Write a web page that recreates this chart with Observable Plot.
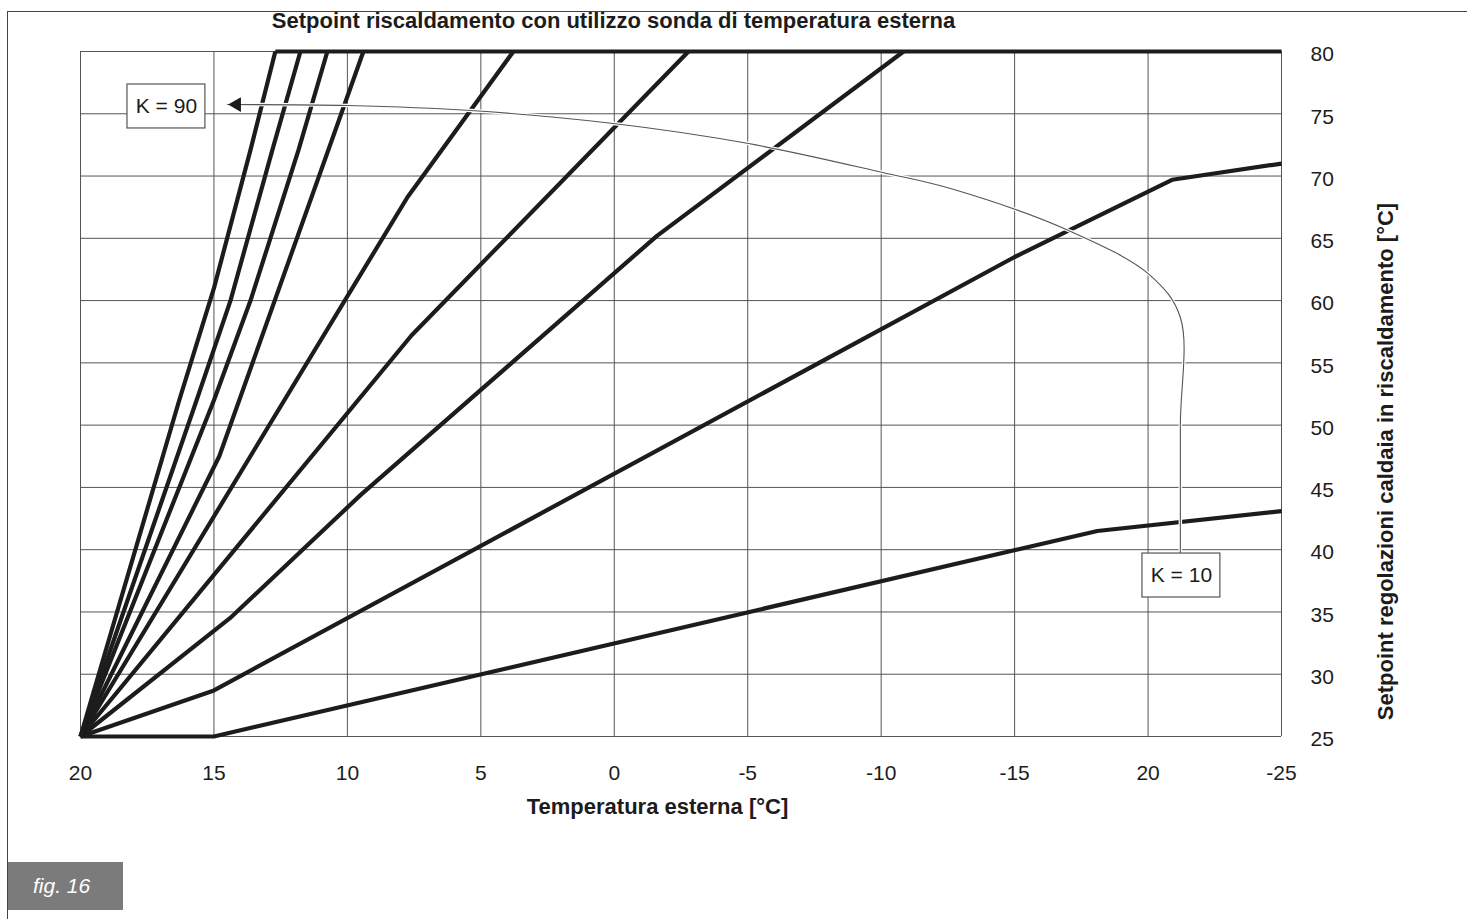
<!DOCTYPE html>
<html><head><meta charset="utf-8">
<script src="https://cdn.jsdelivr.net/npm/d3@7"></script>
<script src="https://cdn.jsdelivr.net/npm/@observablehq/plot@0.6"></script>
<style>
body{margin:0;background:#fff;}
#wrap{position:relative;width:1467px;height:919px;overflow:hidden;font-family:"Liberation Sans",Arial,sans-serif;background:#fff;}
#wrap svg{position:absolute;left:0;top:0;}
.bt{position:absolute;left:7px;top:11px;width:1460px;height:0;border-top:1.5px solid #444;}
.bl{position:absolute;left:7px;top:11px;width:0;height:908px;border-left:1.5px solid #444;}
.fig{position:absolute;left:8px;top:862px;width:115px;height:48px;background:#7b7b7b;color:#fff;font-style:italic;font-size:21px;line-height:48px;padding-left:25px;box-sizing:border-box;}
</style></head>
<body><div id="wrap"></div>
<script>
// ---- data ----
const title = "Setpoint riscaldamento con utilizzo sonda di temperatura esterna";
const xLabel = "Temperatura esterna [°C]";
const yLabel = "Setpoint regolazioni caldaia in riscaldamento [°C]";
const figLabel = "fig. 16";

const xTicks = [20, 15, 10, 5, 0, -5, -10, -15, -20, -25];
const xTickLabels = ["20", "15", "10", "5", "0", "-5", "-10", "-15", "20", "-25"];
const yTicks = [25, 30, 35, 40, 45, 50, 55, 60, 65, 70, 75, 80];

// curves: [outside temperature, setpoint]
const k10 = [[20, 25], [15, 25], [-18.1, 41.5], [-25, 43.1]];
const k20 = [[20, 25], [15, 28.7], [-15, 63.5], [-20.9, 69.7], [-25, 71]];
const k30 = [[20, 25], [14.4, 34.5], [9.5, 44.4], [-1.6, 65.2], [-10.84, 80]];
const k40 = [[20, 25], [7.6, 57.2], [-2.78, 80]];
const k50 = [[20, 25], [7.75, 68.3], [3.78, 80]];
const k60 = [[20, 25], [14.8, 47.5], [9.4, 80]];
const k70 = [[20, 25], [15, 52], [13.63, 60], [11.83, 72.1], [10.75, 80]];
const k80 = [[20, 25], [15.65, 52], [14.38, 60], [12.81, 72.1], [11.76, 80]];
const k90 = [[20, 25], [16.3, 52], [15, 61], [13.63, 72.1], [12.7, 80]];
const maxLimit = [[12.7, 80], [-25, 80]];

// annotation arc from K = 10 to K = 90
const arcT = [-21.21, -21.21, -21.21, -20.09, -17.02, -12.6, -10.05, -5.03, 0.03, 5.39, 10.0, 14.49];
const arcV = [39.7, 50, 58.64, 62.01, 65.63, 69.0, 70.29, 72.61, 74.22, 75.26, 75.66, 75.74];
const arrowHead = [14.15, 75.74];

// label boxes [t1, t2, v1, v2]
const boxLabels = ["K = 90", "K = 10"];
const boxK90 = [18.24, 15.32, 77.35, 73.82];
const boxK10 = [-19.79, -22.71, 39.69, 36.16];

// ---- build ----
const curves = {k10, k20, k30, k40, k50, k60, k70, k80, k90, max: maxLimit};
const rows = [];
for (const [k, pts] of Object.entries(curves)) for (const [t, v] of pts) rows.push({k, t, v});
const arc = arcT.map((t, i) => ({t, v: arcV[i]}));
const boxes = [boxK90, boxK10].map((b, i) => ({t1: b[0], t2: b[1], v1: b[2], v2: b[3], label: boxLabels[i]}));

const font = '"Liberation Sans", Arial, Helvetica, sans-serif';
const ink = "#1c1c1c";
const grid = "#555";

const chart = Plot.plot({
  width: 1467, height: 919,
  marginLeft: 80, marginRight: 186, marginTop: 51, marginBottom: 183,
  style: {fontFamily: font, fontSize: "21px", color: ink, background: "transparent"},
  x: {domain: [20, -25], ticks: xTicks, tickFormat: d => xTickLabels[xTicks.indexOf(d)], tickSize: 0, tickPadding: 29, label: null},
  y: {domain: [25, 80], axis: null},
  marks: [
    Plot.ruleX(xTicks, {stroke: grid, strokeWidth: 1}),
    Plot.ruleY(yTicks, {stroke: grid, strokeWidth: 1}),
    Plot.text(yTicks, {y: d => d, text: d => String(d), frameAnchor: "right", textAnchor: "start", lineAnchor: "middle", dx: 29, dy: 3, fontSize: 21, fill: ink}),
    Plot.line(rows, {x: "t", y: "v", z: "k", stroke: ink, strokeWidth: 4.2, strokeLinejoin: "round", strokeLinecap: "butt"}),
    Plot.line(arc, {x: "t", y: "v", curve: "catmull-rom", stroke: "white", strokeWidth: 3.5}),
    Plot.line(arc, {x: "t", y: "v", curve: "catmull-rom", stroke: "#555", strokeWidth: 1.1}),
    Plot.dot([arrowHead], {x: d => d[0], y: d => d[1], symbol: "triangle", r: 5.5, rotate: -90, fill: ink, stroke: "none"}),
    Plot.rect(boxes, {x1: "t1", x2: "t2", y1: "v1", y2: "v2", fill: "white", stroke: "#555", strokeWidth: 1.2}),
    Plot.text(boxes, {x: d => (d.t1 + d.t2) / 2, y: d => (d.v1 + d.v2) / 2, text: "label", fontSize: 21, fill: ink}),
    Plot.text([title], {frameAnchor: "top", textAnchor: "middle", lineAnchor: "middle", dy: -31, dx: -67.5, fontWeight: "bold", fontSize: 22, fill: ink}),
    Plot.text([xLabel], {frameAnchor: "bottom", textAnchor: "middle", lineAnchor: "middle", dy: 70, dx: -23.5, fontWeight: "bold", fontSize: 22, fill: ink}),
    Plot.text([yLabel], {frameAnchor: "right", textAnchor: "middle", lineAnchor: "middle", dx: 104, dy: 67.5, rotate: -90, fontWeight: "bold", fontSize: 22, fill: ink})
  ]
});

const wrap = document.getElementById("wrap");
wrap.appendChild(chart);
const bt = document.createElement("div"); bt.className = "bt"; wrap.appendChild(bt);
const bl = document.createElement("div"); bl.className = "bl"; wrap.appendChild(bl);
const fig = document.createElement("div"); fig.className = "fig"; fig.textContent = figLabel; wrap.appendChild(fig);
</script>
</body></html>
